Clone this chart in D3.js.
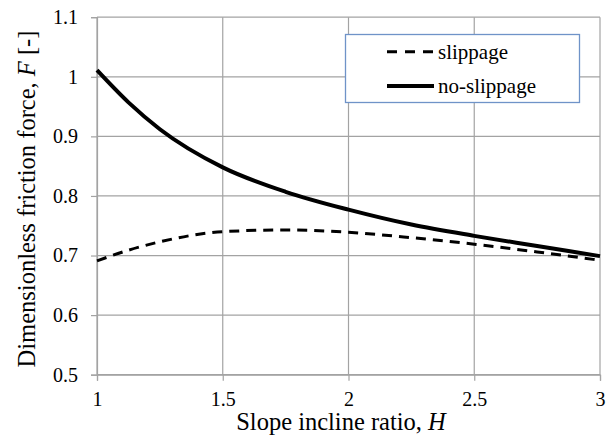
<!DOCTYPE html>
<html><head><meta charset="utf-8">
<script src="https://cdn.jsdelivr.net/npm/d3@7"></script>
<style>body{margin:0;background:#fff} svg text{font-family:"Liberation Serif","Times New Roman",serif}</style>
</head><body>
<svg id="c" width="610" height="445"></svg>
<script>
const H = [1, 1.125, 1.25, 1.5, 1.75, 2, 2.25, 2.5, 2.75, 3];
const slippage = [0.691, 0.709, 0.723, 0.740, 0.743, 0.739, 0.730, 0.719, 0.706, 0.692];
const noSlippage = [1.011, 0.957, 0.912, 0.848, 0.807, 0.777, 0.752, 0.733, 0.716, 0.699];
const xTicks = [1, 1.5, 2, 2.5, 3];
const yTicks = [0.5, 0.6, 0.7, 0.8, 0.9, 1.0, 1.1];
const seriesNames = ["slippage", "no-slippage"];

const svg = d3.select("#c");
const x = d3.scaleLinear().domain([1, 3]).range([97, 600]);
const y = d3.scaleLinear().domain([0.5, 1.1]).range([374.7, 17.2]);
const grid = "#a3a3a3";

// gridlines
svg.append("g").selectAll("line").data(yTicks).join("line")
  .attr("x1", x(1)).attr("x2", x(3)).attr("y1", d => y(d)).attr("y2", d => y(d))
  .attr("stroke", grid).attr("stroke-width", 1.2);
svg.append("g").selectAll("line").data(xTicks).join("line")
  .attr("x1", d => x(d)).attr("x2", d => x(d)).attr("y1", y(0.5)).attr("y2", y(1.1))
  .attr("stroke", grid).attr("stroke-width", 1.2);

// axes
const fmt = d => d3.format("")(+d.toFixed(1));
const xAxis = svg.append("g").attr("transform", `translate(0,${y(0.5)})`)
  .call(d3.axisBottom(x).tickValues(xTicks).tickSize(6).tickPadding(11).tickFormat(fmt));
const yAxis = svg.append("g").attr("transform", `translate(${x(1)},0)`)
  .call(d3.axisLeft(y).tickValues(yTicks).tickSize(6).tickPadding(13).tickFormat(fmt));
[xAxis, yAxis].forEach(a => {
  a.attr("font-family", null).attr("font-size", null);
  a.select(".domain").attr("stroke", grid).attr("stroke-width", 1.2);
  a.selectAll(".tick line").attr("stroke", grid).attr("stroke-width", 1.2);
  a.selectAll("text").style("font-size", "20px").attr("fill", "#000");
});

// lines
const line = d3.line().x((d, i) => x(H[i])).y(d => y(d)).curve(d3.curveMonotoneX);
svg.append("path").datum(slippage).attr("d", line).attr("fill", "none")
  .attr("stroke", "#000").attr("stroke-width", 3).attr("stroke-dasharray", "10,7");
svg.append("path").datum(noSlippage).attr("d", line).attr("fill", "none")
  .attr("stroke", "#000").attr("stroke-width", 4);

// axis titles
const xt = svg.append("text").attr("x", 341).attr("y", 430).attr("text-anchor", "middle")
  .style("font-size", "24.5px");
xt.append("tspan").text("Slope incline ratio, ");
xt.append("tspan").attr("font-style", "italic").text("H");
const yt = svg.append("text").attr("transform", "translate(35,199) rotate(-90)")
  .attr("text-anchor", "middle").style("font-size", "24.5px");
yt.append("tspan").text("Dimensionless friction force, ");
yt.append("tspan").attr("font-style", "italic").text("F");
yt.append("tspan").text(" [-]");

// legend
const lg = svg.append("g");
lg.append("rect").attr("x", 345.5).attr("y", 34.5).attr("width", 234).attr("height", 68)
  .attr("fill", "#fff").attr("stroke", "#6f93c8").attr("stroke-width", 1.3);
const ly = [51.7, 86];
seriesNames.forEach((n, i) => {
  lg.append("line").attr("x1", 387).attr("x2", 434).attr("y1", ly[i]).attr("y2", ly[i])
    .attr("stroke", "#000").attr("stroke-width", i ? 4 : 3)
    .attr("stroke-dasharray", i ? null : "10,8");
  lg.append("text").attr("x", 438).attr("y", ly[i] + 7).style("font-size", "21px").text(n);
});
</script>
</body></html>
